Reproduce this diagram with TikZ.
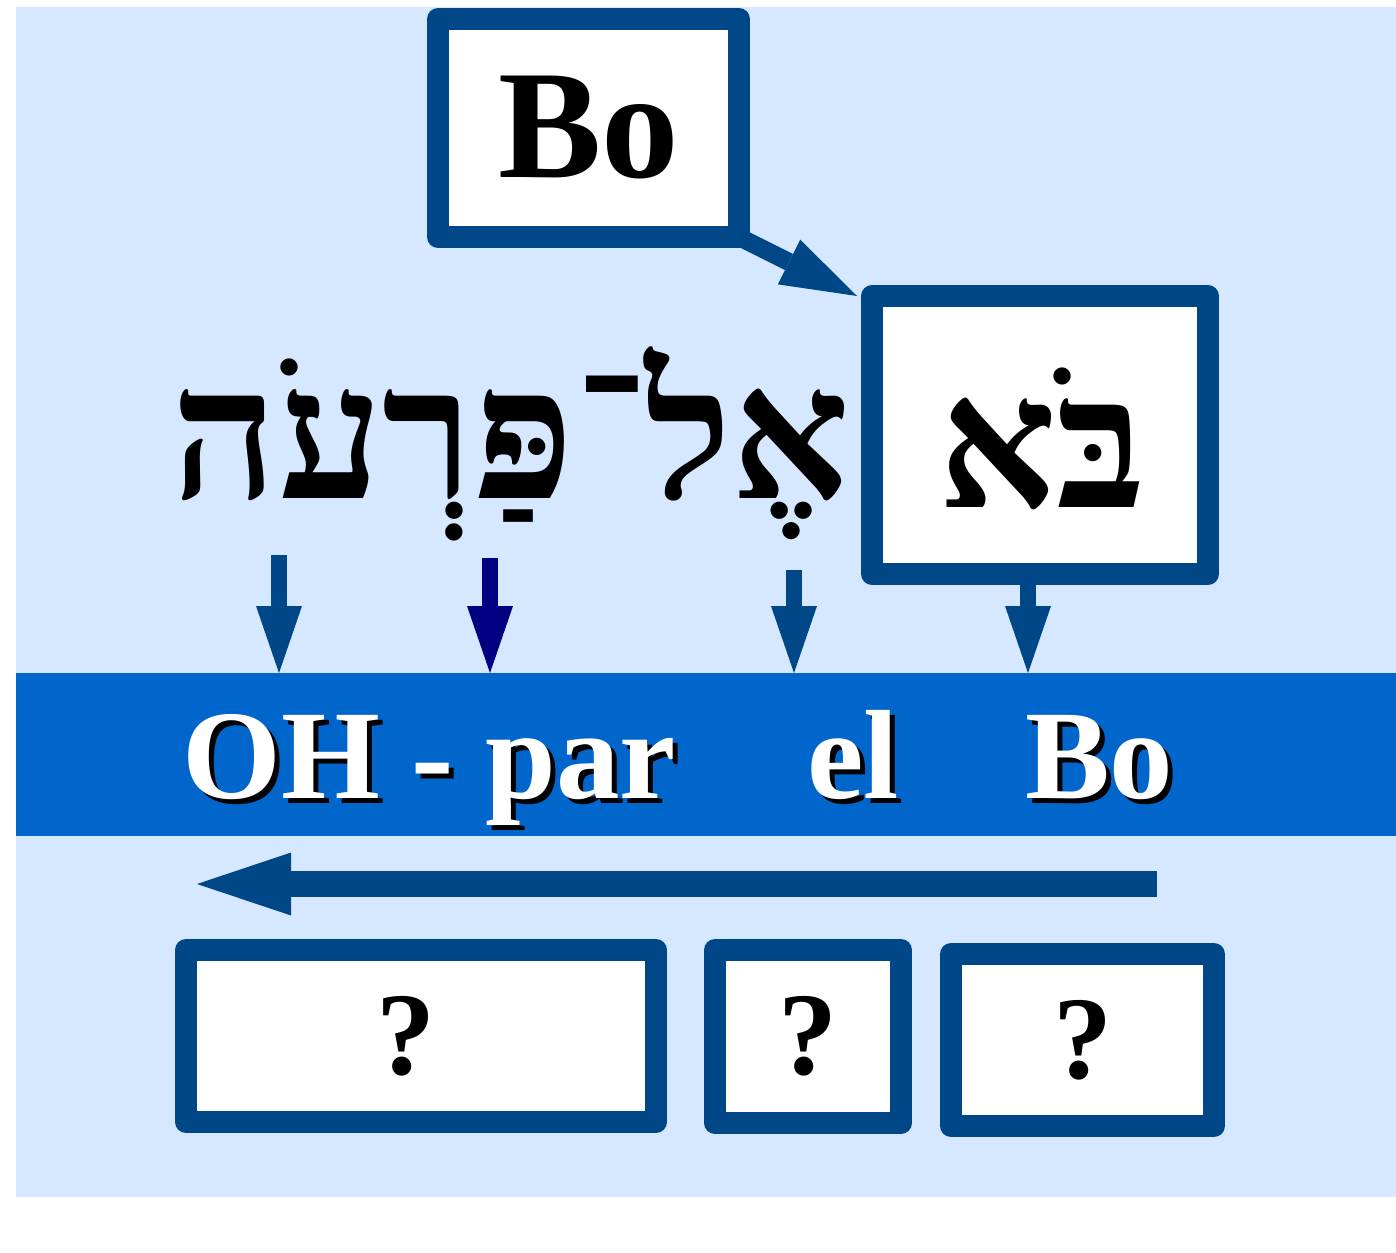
\documentclass[tikz,border=0pt]{standalone}
\usepackage{fontspec}
\setmainfont{Liberation Serif}
\newfontfamily\hebfont[Script=Hebrew]{Liberation Serif}
\TeXXeTstate=1
\usetikzlibrary{arrows.meta}
\definecolor{bgblue}{RGB}{213,232,255}
\definecolor{boxblue}{RGB}{0,71,136}
\definecolor{bandblue}{RGB}{0,102,204}
\definecolor{navyblue}{RGB}{0,0,128}
% white word with a black shadow: position, name, text
\newcommand\shadowword[3]{%
  \node[word,text=black] at ([shift={(5,5)}]#1) {#3};
  \node[word,text=white] (#2) at (#1) {#3};}
\begin{document}
\begin{tikzpicture}[x=1pt,y=-1pt,
    wbox/.style={draw=boxblue,fill=white,line width=22pt,line join=round,inner sep=0pt,outer sep=0pt},
    word/.style={font=\bfseries\fontsize{127}{130}\selectfont,anchor=base west,inner sep=0pt},
    quest/.style={font=\bfseries\fontsize{118}{120}\selectfont},
    hebtxt/.style={font=\hebfont\bfseries\fontsize{185}{190}\selectfont,anchor=base,inner sep=0pt},
    downarr/.style={-{Triangle[length=67pt,width=46pt,line width=0pt]},line width=16pt,draw=boxblue}]
  \useasboundingbox (0,0) rectangle (1396,1252);
  \fill[bgblue] (16,7) rectangle (1396,1197);
  \node[fill=bandblue,minimum width=1380pt,minimum height=163pt,inner sep=0pt,outer sep=0pt,anchor=north west] (band) at (16,673) {};
  % boxes
  \node[wbox,minimum width=301pt,minimum height=218pt,font=\bfseries\fontsize{155}{160}\selectfont] (bo) at (588.5,128) {Bo};
  \node[wbox,minimum width=336pt,minimum height=278pt] (bahbox) at (1040,435) {};
  \node[hebtxt] (bah) at (1042,507) {\beginR בֹּא\endR};
  \node[hebtxt] (pharaoh) at (511,498) {\beginR אֶל־פַּרְעֹה\endR};
  \node[wbox,quest,minimum width=470pt,minimum height=172pt] (q1) at (421,1036) {\kern-30pt?};
  \node[wbox,quest,minimum width=186pt,minimum height=173pt] (q2) at (808,1036.5) {?};
  \node[wbox,quest,minimum width=263pt,minimum height=172pt] (q3) at (1082.5,1040) {?};
  % arrows
  \draw[-{Triangle[length=76pt,width=50pt,line width=0pt]},line width=18pt,boxblue] (bo.south east) -- ([xshift=-15pt]bahbox.north west);
  \coordinate (d1) at (279,555);
  \coordinate (d2) at (490,558);
  \coordinate (d3) at (794,570);
  \coordinate (d4) at ([xshift=-12pt]bahbox.south);
  \draw[downarr] (d1) -- (d1 |- band.north);
  \draw[downarr,draw=navyblue] (d2) -- (d2 |- band.north);
  \draw[downarr] (d3) -- (d3 |- band.north);
  \draw[downarr] (d4) -- (d4 |- band.north);
  \coordinate (l1) at (1157,884);
  \coordinate (l2) at (197,884);
  \draw[-{Triangle[length=94pt,width=63pt,line width=0pt]},line width=26pt,boxblue] (l1) -- (l2);
  % band words
  \shadowword{182,798}{w1}{OH - par}
  \shadowword{807,798}{w2}{el}
  \shadowword{1025,798}{w3}{Bo}
\end{tikzpicture}
\end{document}
